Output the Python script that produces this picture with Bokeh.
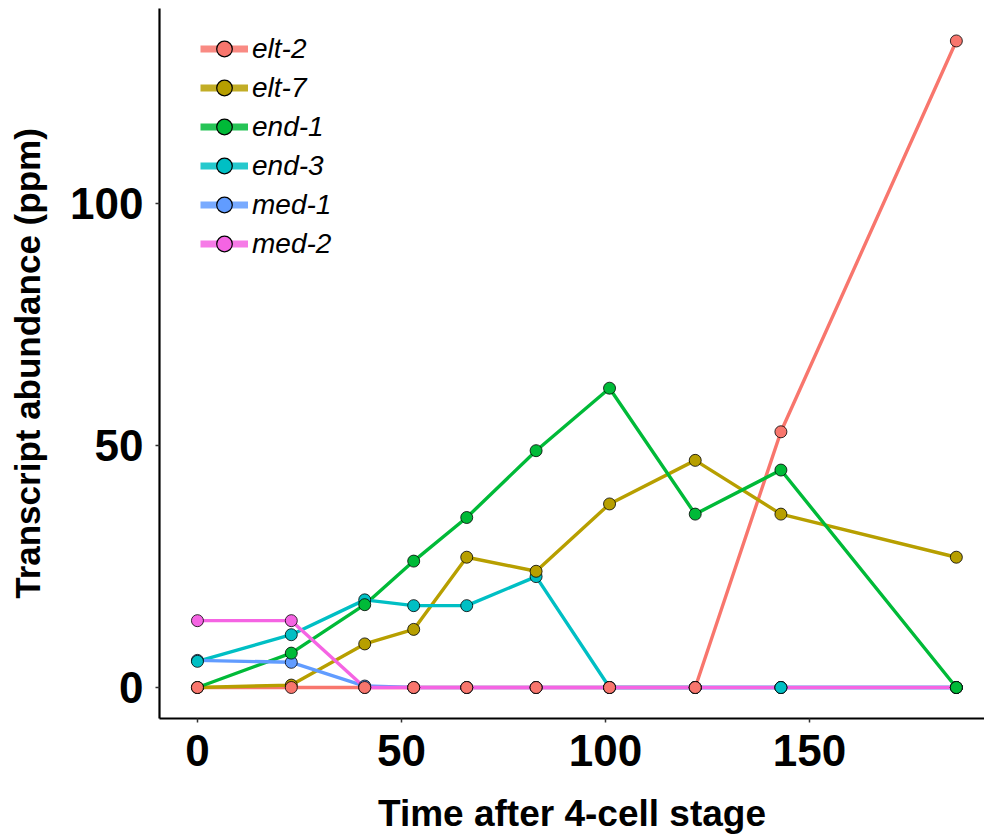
from bokeh.plotting import figure
from bokeh.models import Range1d, FixedTicker, Legend, LegendItem
from bokeh.embed import file_html
from bokeh.resources import INLINE

# ---- data ----
time = [0, 23, 41, 53, 66, 83, 101, 122, 143, 186]
genes = ["elt-2", "elt-7", "end-1", "end-3", "med-1", "med-2"]
elt_2 = [0, 0, 0, 0, 0, 0, 0, 0, 52.8, 133.5]
elt_7 = [0, 0.5, 9.0, 12.0, 26.9, 24.0, 37.9, 46.9, 35.8, 26.9]
end_1 = [0, 7.1, 17.1, 26.1, 35.1, 48.9, 61.8, 35.8, 44.9, 0]
end_3 = [5.4, 10.9, 18.1, 16.9, 16.9, 22.9, 0, 0, 0, 0]
med_1 = [5.6, 5.2, 0.3, 0, 0, 0, 0, 0, 0, 0]
med_2 = [13.8, 13.8, 0, 0, 0, 0, 0, 0, 0, 0]
x_ticks = [0, 50, 100, 150]
y_ticks = [0, 50, 100]

colors = ["#F8766D", "#B79F00", "#00BA38", "#00BFC4", "#619CFF", "#F564E3"]
series = [elt_2, elt_7, end_1, end_3, med_1, med_2]

FONT = "Liberation Sans"
NAN = float("nan")

p = figure(width=984, height=837, output_backend="svg", toolbar_location=None,
           x_range=Range1d(-9.3, 192.9), y_range=Range1d(-6.4, 140.2),
           min_border_left=159, min_border_right=0, min_border_top=8,
           min_border_bottom=119)
p.outline_line_color = None
p.xgrid.visible = False
p.ygrid.visible = False
p.background_fill_color = "white"

# lines in gene order
for vals, c in zip(series, colors):
    p.line(time, vals, line_color=c, line_width=3.4)
# points drawn in reverse order so elt-2 ends on top
for vals, c in reversed(list(zip(series, colors))):
    p.scatter(time, vals, marker="circle", size=12, fill_color=c,
              line_color="black", line_width=0.8)

# legend-only renderers (NaN data: nothing drawn in the plot area)
items = []
for g, c in zip(genes, colors):
    lr = p.line([NAN], [NAN], line_color=c, line_width=7, line_alpha=0.85)
    sr = p.scatter([NAN], [NAN], marker="circle", fill_color=c, line_color="black",
                   line_width=1.2, size=12)
    items.append(LegendItem(label=g, renderers=[lr, sr]))
legend = Legend(items=items, location=(41, 455), glyph_width=48, glyph_height=39,
                label_height=39, spacing=0, padding=0, margin=0, label_standoff=4,
                label_text_font=FONT, label_text_font_style="italic",
                label_text_font_size="28px", label_text_color="black",
                border_line_alpha=0, background_fill_alpha=0)
p.add_layout(legend)

for ax in (p.xaxis[0], p.yaxis[0]):
    ax.axis_line_width = 2.2
    ax.axis_line_color = "black"
    ax.major_tick_line_color = "#333333"
    ax.major_tick_line_width = 1.5
    ax.major_tick_out = 4
    ax.major_tick_in = 0
    ax.minor_tick_out = 0
    ax.minor_tick_in = 0
    ax.major_label_text_font = FONT
    ax.major_label_text_font_style = "bold"
    ax.major_label_text_font_size = "44px"
    ax.major_label_text_color = "black"
    ax.axis_label_text_font = FONT
    ax.axis_label_text_font_style = "bold"
    ax.axis_label_text_color = "black"

p.xaxis.axis_label_text_font_size = "37px"
p.yaxis.axis_label_text_font_size = "35px"
p.xaxis.ticker = FixedTicker(ticks=x_ticks)
p.yaxis.ticker = FixedTicker(ticks=y_ticks)
p.xaxis.axis_label = "Time after 4-cell stage"
p.yaxis.axis_label = "Transcript abundance (ppm)"
p.xaxis.major_label_standoff = 12
p.yaxis.major_label_standoff = 12
p.xaxis.axis_label_standoff = 24
p.yaxis.axis_label_standoff = 20

open("out.html", "w").write(file_html(p, INLINE))
